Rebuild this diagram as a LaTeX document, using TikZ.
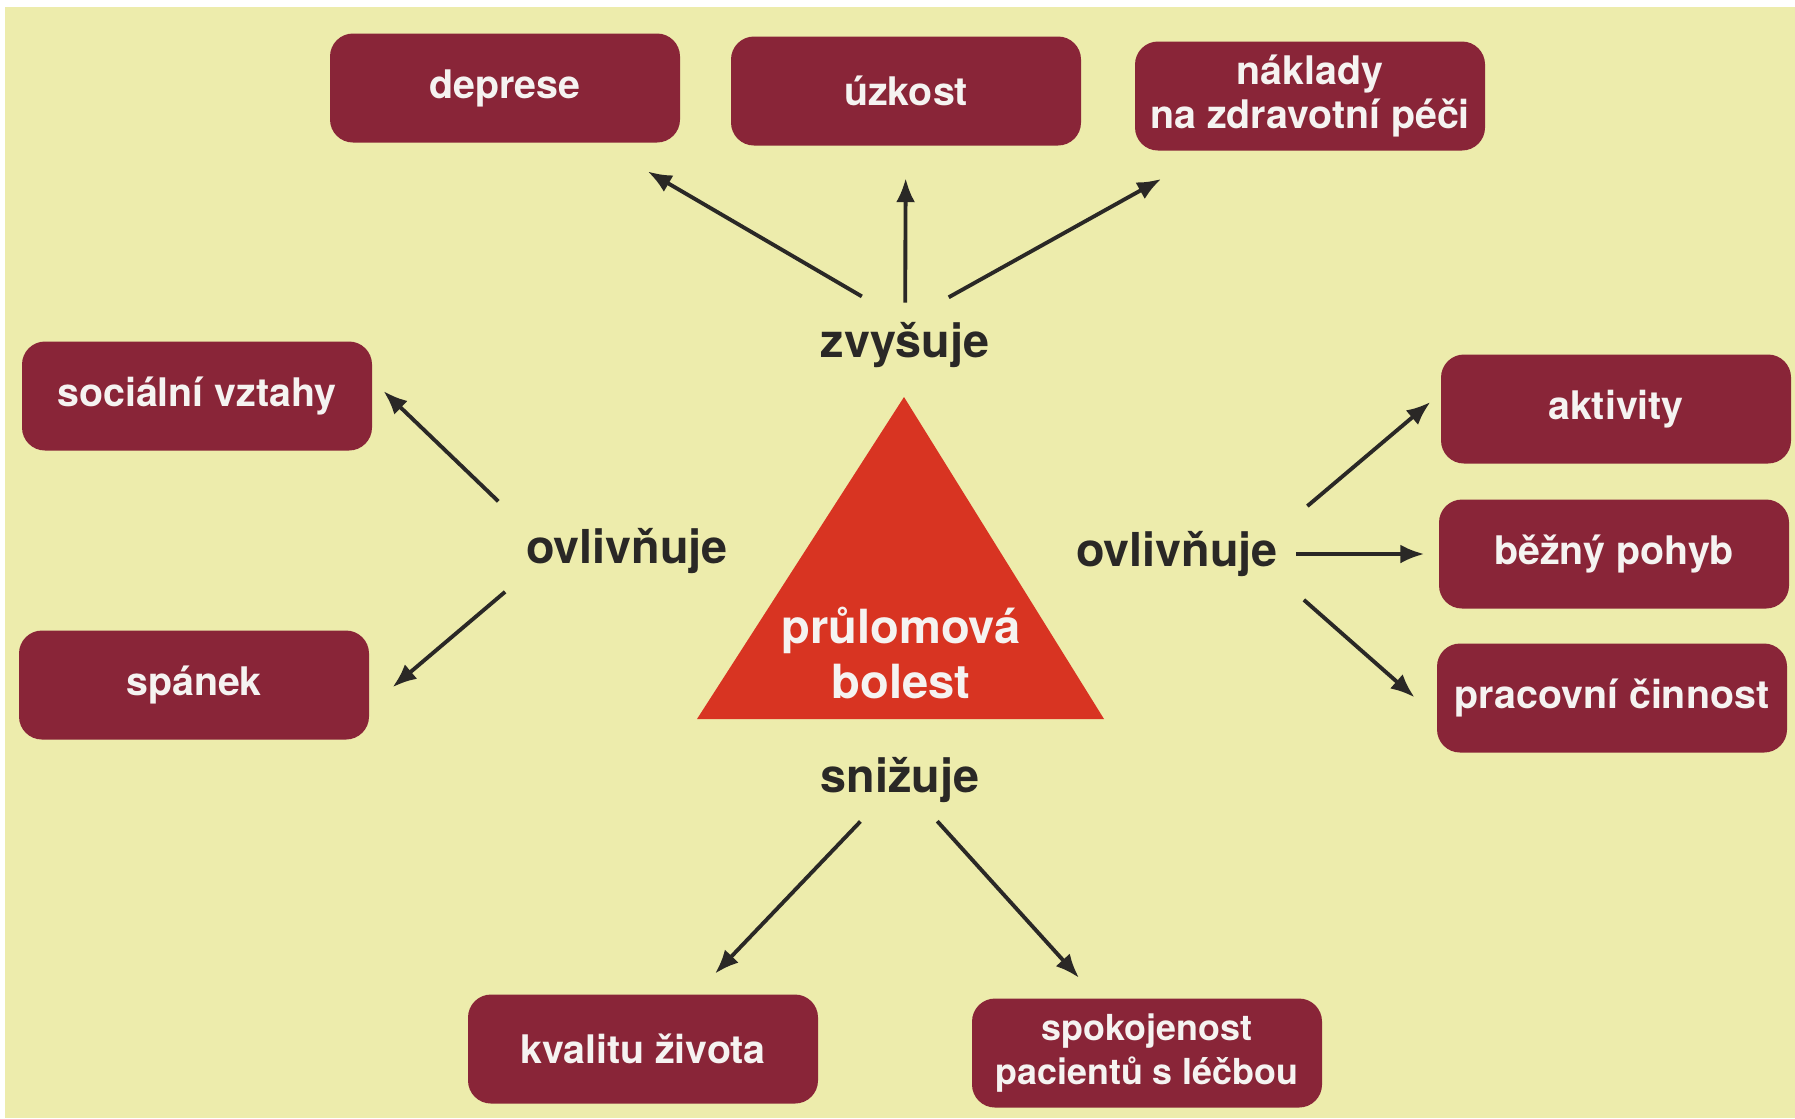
\documentclass[tikz,border=0pt]{standalone}
\usepackage{fontspec}
\setmainfont{TeX Gyre Heros}
\usepackage{tikz}
\usetikzlibrary{arrows.meta,calc,shapes}
\tikzset{>={Latex[length=2.4mm,width=1.9mm]}}
\definecolor{paleyellow}{RGB}{237,236,172}
\definecolor{wine}{RGB}{137,37,56}
\definecolor{painred}{RGB}{216,52,34}
\definecolor{inkgrey}{RGB}{42,40,38}
\definecolor{offwhite}{RGB}{245,243,241}
\tikzset{
    box/.style={fill=wine, rounded corners=2.3mm, minimum width=35mm, minimum height=10.9mm, align=center, text=offwhite, font=\bfseries\fontsize{11.2}{12.7}\selectfont},
    verb/.style={inner sep=0pt, text=inkgrey, font=\bfseries\fontsize{13.3}{15}\selectfont},
    arr/.style={->, line width=1.1pt, draw=inkgrey}
}

\begin{document}
\begin{tikzpicture}[x=0.1mm, y=-0.1mm]
    \useasboundingbox (0,0) rectangle (1795,1118);
    \fill [white] (0,0) rectangle (1795,1118);
    \fill [paleyellow] (5,7) rectangle (1795,1118);
    \fill [painred] (904,397) -- (697,719) -- (1104,719) -- cycle;
    \node [inner sep=0pt, align=center, text=offwhite, font=\bfseries\fontsize{13.4}{15.4}\selectfont] (pain) at (901,653) {průlomová\\bolest};

    \node [box] (depr) at (505,88) {deprese};
    \node [box] (uzk) at (906,91) {úzkost};
    \node [box] (nakl) at (1310,96) {náklady\\na zdravotní péči};
    \node [box] (soc) at (197,396) {sociální vztahy};
    \node [box] (span) at (194,685) {spánek};
    \node [box] (akt) at (1616,409) {aktivity};
    \node [box] (bez) at (1614,554) {běžný pohyb};
    \node [box] (prac) at (1612,698) {pracovní činnost};
    \node [box] (kval) at (643,1049) {kvalitu života};
    \node [box, font=\bfseries\fontsize{10.2}{12.7}\selectfont] (spok) at (1147,1053) {spokojenost\\pacientů s léčbou};

    \node [verb] (zvys) at (905,345) {zvyšuje};
    \node [verb] (ovll) at (627,551) {ovlivňuje};
    \node [verb] (ovlr) at (1177,554) {ovlivňuje};
    \node [verb] (sniz) at (900,780) {snižuje};

    \draw [arr, shorten <=5mm, shorten >=5.6mm] (zvys.north) -- (depr);
    \draw [arr, shorten <=1.9mm, shorten >=3.2mm] (zvys) -- (uzk);
    \draw [arr, shorten <=5mm, shorten >=5.7mm] (zvys.north) -- (nakl);
    \draw [arr, shorten <=3.8mm, shorten >=1.5mm] (ovll.north west) -- (soc.5);
    \draw [arr, shorten <=2.7mm, shorten >=3mm] (ovll.south west) -- (span.-7);
    \draw [arr, shorten <=3.8mm, shorten >=1.3mm] (ovlr.north east) -- (akt.175);
    \draw [arr, shorten <=1.8mm, shorten >=1.4mm] (ovlr.east) -- (bez.west);
    \draw [arr, shorten <=3.4mm, shorten >=2.9mm] (ovlr.south east) -- (prac.186);
    \draw [arr, shorten <=2.5mm, shorten >=2.8mm] (sniz) -- (kval);
    \draw [arr, shorten <=2.4mm, shorten >=2.7mm] (sniz) -- (spok);
\end{tikzpicture}
\end{document}
